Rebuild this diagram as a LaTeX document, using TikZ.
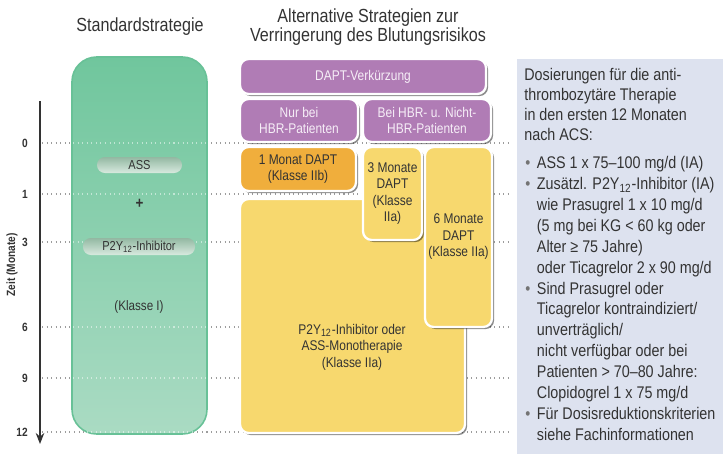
\documentclass[tikz,border=0pt]{standalone}
\usepackage{fontspec}
\setmainfont{Liberation Sans}[FakeStretch=0.85]
\usetikzlibrary{arrows.meta,shadows}
\definecolor{gruen}{HTML}{70C69D}
\definecolor{gruenh}{HTML}{AADBC3}
\definecolor{gruenr}{HTML}{68C197}
\definecolor{lila}{HTML}{B07CB5}
\definecolor{lilat}{HTML}{F6EEF7}
\definecolor{orangeb}{HTML}{F0AE3C}
\definecolor{gelb}{HTML}{F7D86E}
\definecolor{grau}{HTML}{333333}
\definecolor{hgrau}{HTML}{9C9C9C}
\definecolor{tafel}{HTML}{DDE2EF}
\definecolor{pilleo}{HTML}{93B8A2}
\definecolor{pilleu}{HTML}{D8EADF}
\newcommand{\pkt}{\makebox[6.6pt][l]{\textcolor{black!55}{\textbullet}}}
\newcommand{\ein}{\hspace*{6.6pt}}
\tikzset{
  groesse/.style 2 args={minimum width=#1*0.02cm,minimum height=#2*0.02cm},
  kasten/.style={draw=white,line width=1.3pt,rounded corners=5pt,align=center,inner sep=1pt,
    drop shadow={shadow xshift=1.2pt,shadow yshift=-1.2pt,fill=black,opacity=0.45}},
  lilak/.style={kasten,fill=lila,text=lilat,font=\fontsize{8}{9.4}\selectfont},
  orangek/.style={kasten,fill=orangeb,text=grau,font=\fontsize{8}{9.4}\selectfont},
  gelbk/.style={kasten,fill=gelb,text=grau,font=\fontsize{8}{9.4}\selectfont},
  pille/.style={rounded corners=4.5pt,top color=pilleo,bottom color=pilleu,text=grau,
    font=\fontsize{7.4}{8}\selectfont,inner sep=0pt},
  raster/.style={hgrau,dotted,line width=0.6pt},
  rasterh/.style={white,opacity=0.5,dotted,line width=0.6pt},
  zeit/.style={-{Stealth[length=2.2mm,width=1.7mm]},grau,line width=0.9pt},
  monat/.style={anchor=east,text=grau,font=\bfseries\fontsize{6.8}{7}\selectfont},
  titel/.style={text=grau,align=center,font=\fontsize{10.8}{10.6}\selectfont},
  tafelt/.style={anchor=north west,align=left,text=grau,inner sep=0pt},
}
\begin{document}
\begin{tikzpicture}[x=0.02cm,y=-0.02cm]
  \useasboundingbox (0,0) rectangle (723,454);
  \fill[tafel] (517,59) rectangle (723,454);
  \node[titel] (titstd) at (140,27) {Standardstrategie};
  \node[titel] (titalt) at (368,27) {Alternative Strategien zur\\Verringerung des Blutungsrisikos};
  \coordinate (oben) at (40,101);
  \coordinate (unten) at (40,444);
  \draw[zeit] (oben) -- (unten);
  \node[rotate=90,text=grau,font=\bfseries\fontsize{6.8}{7}\selectfont] (zeitlab) at (12,265) {Zeit (Monate)};
  \foreach \y/\m in {143/0,194/1,242/3,327/6,378/9,432/12}{
    \node[monat] (m\m) at (34,\y) {\m};
    \draw[raster] (42,\y) -- (512,\y);
  }
  \node[top color=gruen,bottom color=gruenh,draw=gruenr,line width=0.9pt,rounded corners=14pt,groesse={135}{377}] (standard) at (139.5,245.5) {};
  \foreach \y in {143,194,242,327,378,432}
    \draw[rasterh] (73,\y) -- (206,\y);
  \node[pille,groesse={85}{16}] (ass) at (139.5,165) {ASS};
  \node[text=grau,font=\bfseries\fontsize{9}{9}\selectfont] (plus) at (139.5,204) {+};
  \node[pille,groesse={112}{17}] (ptwo) at (139,246.5) {P2Y\textsubscript{12}-Inhibitor};
  \node[text=grau,font=\fontsize{7.8}{8}\selectfont] (kl1) at (139,307) {(Klasse I)};
  \node[lilak,groesse={246}{35}] (dapt) at (363,76.5) {DAPT-Verkürzung};
  \node[lilak,groesse={118}{43}] (nurhbr) at (299,120.5) {Nur bei\\HBR-Patienten};
  \node[lilak,groesse={128}{43}] (beihbr) at (427,120.5) {Bei HBR- u. Nicht-\\HBR-Patienten};
  \node[orangek,groesse={116}{44}] (einmonat) at (298,169) {1 Monat DAPT\\(Klasse IIb)};
  \node[gelbk,groesse={225}{234}] (mono) at (352.5,316) {};
  \node[text=grau,align=center,font=\fontsize{8}{9.4}\selectfont] (monotxt) at (352,347) {P2Y\textsubscript{12}-Inhibitor oder\\ASS-Monotherapie\\(Klasse IIa)};
  \node[gelbk,groesse={59}{93}] (dreimonat) at (392.5,193.5) {3 Monate\\DAPT\\(Klasse\\IIa)};
  \node[gelbk,groesse={67}{180}] (sechsmonat) at (458.5,237) {6 Monate\\DAPT\\(Klasse IIa)};
  \node[tafelt,font=\fontsize{9.6}{11.3}\selectfont] (dosis) at (524,68) {Dosierungen für die anti-\\thrombozytäre Therapie\\in den ersten 12 Monaten\\nach ACS:};
  \node[tafelt,font=\fontsize{9.6}{11.9}\selectfont] (liste) at (525,156) {\pkt ASS 1 x 75–100 mg/d (IA)\\
    \pkt Zusätzl. P2Y\textsubscript{12}-Inhibitor (IA)\\
    \ein wie Prasugrel 1 x 10 mg/d\\
    \ein (5 mg bei KG < 60 kg oder\\
    \ein Alter ≥ 75 Jahre)\\
    \ein oder Ticagrelor 2 x 90 mg/d\\
    \pkt Sind Prasugrel oder\\
    \ein Ticagrelor kontraindiziert/\\
    \ein unverträglich/\\
    \ein nicht verfügbar oder bei\\
    \ein Patienten > 70–80 Jahre:\\
    \ein Clopidogrel 1 x 75 mg/d\\
    \pkt Für Dosisreduktionskriterien\\
    \ein siehe Fachinformationen};
\end{tikzpicture}
\end{document}
